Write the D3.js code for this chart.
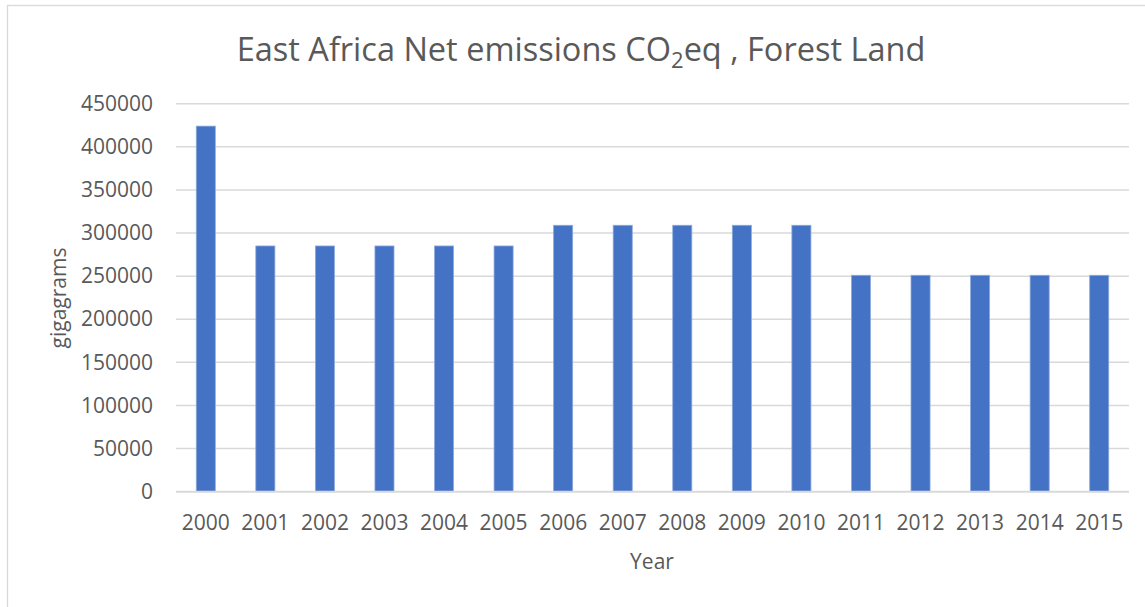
<!DOCTYPE html>
<html>
<head>
<meta charset="utf-8">
<script src="https://cdn.jsdelivr.net/npm/d3@7"></script>
<style>
  html, body { margin: 0; padding: 0; background: #ffffff; }
  svg { display: block; }
  text { font-family: "Open Sans", "Liberation Sans", sans-serif; fill: #595959; }
</style>
</head>
<body>
<svg id="chart" width="1145" height="607"></svg>
<script>
// Net CO2eq emissions from forest land, East Africa (gigagrams)
const years = ["2000", "2001", "2002", "2003", "2004", "2005", "2006", "2007",
               "2008", "2009", "2010", "2011", "2012", "2013", "2014", "2015"];
const emissions = [424000, 285000, 285000, 285000, 285000, 285000, 309000, 309000,
                   309000, 309000, 309000, 251000, 251000, 251000, 251000, 251000];
const yTicks = [0, 50000, 100000, 150000, 200000, 250000, 300000, 350000, 400000, 450000];

const svg = d3.select("#chart");

// chart frame
svg.append("rect")
  .attr("x", 7.5).attr("y", 5.5)
  .attr("width", 1150).attr("height", 620)
  .attr("fill", "#ffffff")
  .attr("stroke", "#d9d9d9").attr("stroke-width", 1.3);

const plot = { left: 176, right: 1129, top: 103.7, bottom: 491.7 };

const x = d3.scaleBand()
  .domain(years)
  .range([plot.left, plot.right])
  .paddingInner(0.68)
  .paddingOuter(0.34);

const y = d3.scaleLinear()
  .domain([0, 450000])
  .range([plot.bottom, plot.top]);

// horizontal gridlines
svg.append("g")
  .selectAll("line")
  .data(yTicks)
  .join("line")
  .attr("x1", plot.left).attr("x2", plot.right)
  .attr("y1", d => y(d)).attr("y2", d => y(d))
  .attr("stroke", "#d9d9d9").attr("stroke-width", 1.5);

// y-axis labels
const yAxis = svg.append("g")
  .attr("transform", `translate(${plot.left},0)`)
  .call(d3.axisLeft(y).tickValues(yTicks).tickSize(0).tickPadding(23).tickFormat(d3.format("d")));
yAxis.select(".domain").remove();
yAxis.selectAll("text")
  .style("font-family", "'Open Sans', sans-serif")
  .style("font-size", "21px")
  .attr("fill", "#595959");

// bars
svg.append("g")
  .selectAll("rect")
  .data(years.map((yr, i) => ({ year: yr, value: emissions[i] })))
  .join("rect")
  .attr("x", d => x(d.year))
  .attr("width", x.bandwidth())
  .attr("y", d => y(d.value))
  .attr("height", d => y(0) - y(d.value))
  .attr("fill", "#4472c4")
  .attr("stroke", "#8eaadc")
  .attr("stroke-width", 0.8);

// baseline
svg.append("line")
  .attr("x1", plot.left).attr("x2", plot.right)
  .attr("y1", y(0)).attr("y2", y(0))
  .attr("stroke", "#d9d9d9").attr("stroke-width", 1.8);

// x-axis labels
const xAxis = svg.append("g")
  .attr("transform", `translate(0,${plot.bottom})`)
  .call(d3.axisBottom(x).tickSize(0).tickPadding(23));
xAxis.select(".domain").remove();
xAxis.selectAll("text")
  .style("font-family", "'Open Sans', sans-serif")
  .style("font-size", "21px")
  .attr("fill", "#595959");

// axis titles
svg.append("text")
  .attr("x", (plot.left + plot.right) / 2 - 0.5)
  .attr("y", 569)
  .attr("text-anchor", "middle")
  .style("font-size", "21px")
  .text("Year");

svg.append("text")
  .attr("transform", "translate(66,298) rotate(-90)")
  .attr("text-anchor", "middle")
  .style("font-size", "21px")
  .text("gigagrams");

// chart title with subscript
const title = svg.append("text")
  .attr("x", 581)
  .attr("y", 61)
  .attr("text-anchor", "middle")
  .style("font-size", "32.5px");
title.append("tspan").text("East Africa Net emissions CO");
title.append("tspan").attr("dy", 7).style("font-size", "22px").text("2");
title.append("tspan").attr("dy", -7).text("eq , Forest Land");
</script>
</body>
</html>
